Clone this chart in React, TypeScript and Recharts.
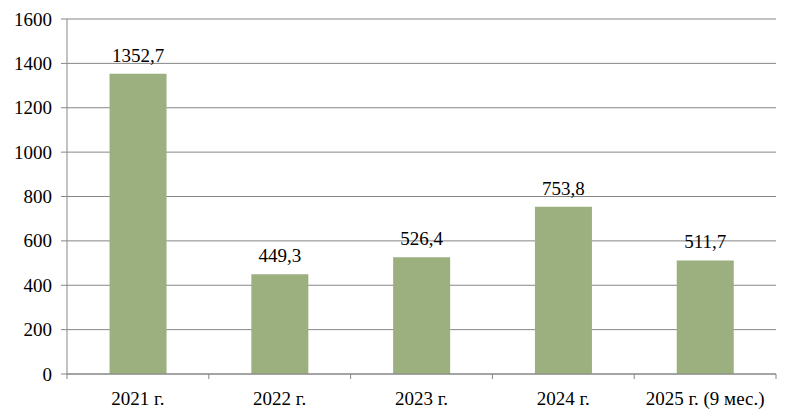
import React from "react";
import { BarChart, Bar, XAxis, YAxis, CartesianGrid, LabelList } from "recharts";

const categories = ["2021 г.", "2022 г.", "2023 г.", "2024 г.", "2025 г. (9 мес.)"];
const values = [1352.7, 449.3, 526.4, 753.8, 511.7];
const yTicks = [0, 200, 400, 600, 800, 1000, 1200, 1400, 1600];

const data = categories.map((c, i) => ({ name: c, value: values[i] }));

const FONT = "Liberation Serif";
const FS = 19;
const AXIS_COLOR = "#868686";
const BAND = (776 - 67) / categories.length;

const XTick = (props: any) => {
  const { x, y, payload, index } = props;
  const left = x - BAND / 2;
  const right = x + BAND / 2;
  return (
    <g>
      <line x1={left} y1={y} x2={left} y2={y + 5} stroke={AXIS_COLOR} strokeWidth={1} />
      {index === categories.length - 1 && (
        <line x1={right} y1={y} x2={right} y2={y + 5} stroke={AXIS_COLOR} strokeWidth={1} />
      )}
      <text x={x} y={y + 31} textAnchor="middle" fontFamily={FONT} fontSize={FS} fill="#000">
        {payload.value}
      </text>
    </g>
  );
};

const YTick = (props: any) => {
  const { x, y, payload } = props;
  return (
    <text x={x} y={y} dy={6.5} textAnchor="end" fontFamily={FONT} fontSize={FS} fill="#000">
      {payload.value}
    </text>
  );
};

const BarLabel = (props: any) => {
  const { x, y, width, value } = props;
  return (
    <text x={x + width / 2} y={y - 12} textAnchor="middle" fontFamily={FONT} fontSize={FS} fill="#000">
      {String(value).replace(".", ",")}
    </text>
  );
};

export default function App() {
  return (
    <div style={{ position: "absolute", left: 0, top: 0, width: 794, height: 419, background: "#fff" }}>
      <BarChart
        width={794}
        height={419}
        data={data}
        margin={{ top: 19, right: 18, bottom: 0, left: 7 }}
        barCategoryGap="30%"
      >
        <CartesianGrid vertical={false} stroke={AXIS_COLOR} strokeWidth={1} />
        <XAxis
          dataKey="name"
          tickLine={false}
          tickSize={0}
          tickMargin={0}
          axisLine={{ stroke: AXIS_COLOR }}
          tick={<XTick />}
          interval={0}
          height={45}
        />
        <YAxis
          width={60}
          domain={[0, 1600]}
          ticks={yTicks}
          interval={0}
          tickSize={6}
          tickMargin={9}
          tickLine={{ stroke: AXIS_COLOR }}
          axisLine={{ stroke: AXIS_COLOR }}
          tick={<YTick />}
        />
        <Bar dataKey="value" fill="#9BAF7F" isAnimationActive={false}>
          <LabelList dataKey="value" content={<BarLabel />} />
        </Bar>
      </BarChart>
    </div>
  );
}
